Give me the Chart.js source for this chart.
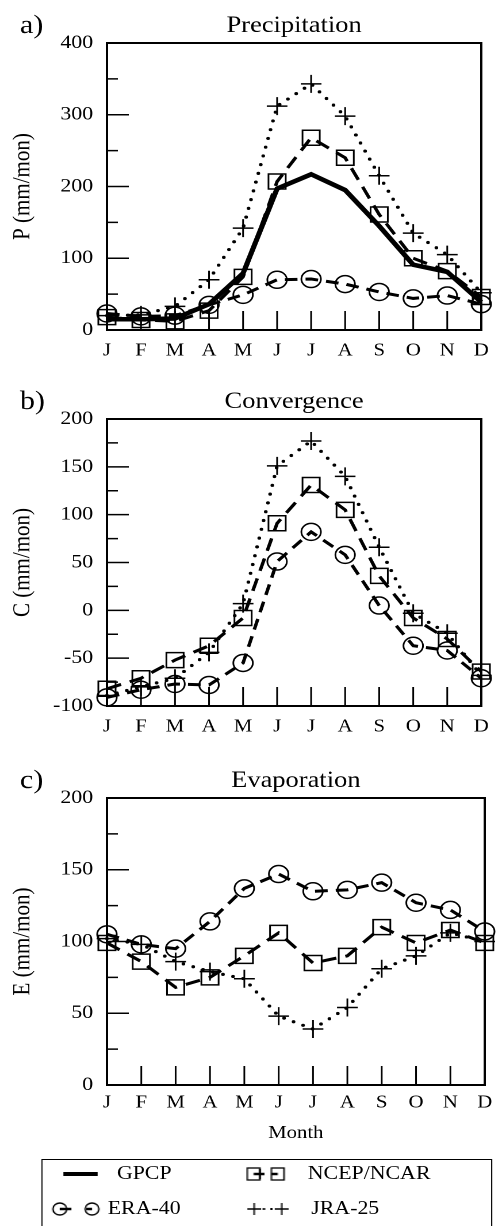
<!DOCTYPE html>
<html>
<head>
<meta charset="utf-8">
<script src="https://cdn.jsdelivr.net/npm/chart.js@4.4.1/dist/chart.umd.min.js"></script>
<style>
  html, body { margin:0; padding:0; background:#fff; overflow:hidden; }
  body { width:500px; height:1226px; position:relative; }
  /* the source figure is stretched sideways, so the whole page is too */
  #page { position:absolute; left:0; top:0; width:435px; height:1226px; transform:scaleX(1.15); transform-origin:0 0; }
  .panel { position:absolute; left:0; width:435px; }
  #legend { position:absolute; left:35.7px; top:1159px; width:392px; height:95px; border:1.5px solid #000; box-sizing:border-box;
            font-family:"Liberation Serif", serif; font-size:19px; color:#000; }
  #legend canvas { position:absolute; left:0; top:0; }
  #legend span { position:absolute; line-height:20px; white-space:nowrap; }
</style>
</head>
<body>
<div id="page">
  <div class="panel" style="top:0px;height:360px"><canvas id="chartP"></canvas></div>
  <div class="panel" style="top:375.7px;height:360px"><canvas id="chartC"></canvas></div>
  <div class="panel" style="top:754.7px;height:400px"><canvas id="chartE"></canvas></div>
  <div id="legend">
    <canvas id="legendMarks" width="392" height="95"></canvas>
    <span style="left:65px;top:3px">GPCP</span>
    <span style="left:57px;top:38px">ERA-40</span>
    <span style="left:231px;top:3px">NCEP/NCAR</span>
    <span style="left:234px;top:38px">JRA-25</span>
  </div>
</div>
<script>
// meses
const months = ["J","F","M","A","M","J","J","A","S","O","N","D"];

// a) Precipitation (mm/mon)
const gpcpP = [15, 15, 16, 36, 79, 197, 217, 195, 145, 91, 81, 39];
const eraP  = [23, 19, 20, 35, 49, 70, 71, 64, 53, 44, 48, 36];
const ncepP = [18, 14, 12, 27, 74, 207, 268, 240, 161, 100, 82, 46];
const jraP  = [20, 21, 33, 70, 142, 312, 343, 298, 215, 135, 105, 52];

// b) Convergence (mm/mon)
const eraC  = [-91, -83, -77, -78, -55, 51, 82, 58, 5, -37, -42, -71];
const ncepC = [-82, -71, -52, -37, -8, 91, 131, 105, 36, -8, -30, -64];
const jraC  = [-89, -80, -71, -44, 7, 151, 177, 140, 66, -3, -24, -68];

// c) Evaporation (mm/mon)
const eraE  = [105, 98, 95, 114, 137, 147, 135, 136, 141, 127, 122, 107];
const ncepE = [99, 86, 68, 75, 90, 106, 85, 90, 110, 99, 108, 99];
const jraE  = [102, 98, 86, 79, 74, 48, 39, 54, 81, 90, 106, 100];

Chart.defaults.font.family = '"Liberation Serif", "Times New Roman", serif';
Chart.defaults.color = "#000";

// marco, ticks hacia adentro, titulo y letra del panel
const frameTicks = {
  id: "frameTicks",
  afterDatasetsDraw(chart, args, opts){
    const ctx = chart.ctx, a = chart.chartArea;
    const x = chart.scales.x, y = chart.scales.y;
    ctx.save();
    ctx.strokeStyle = "#000";
    ctx.lineWidth = 1.5;
    ctx.beginPath();
    for(let v = y.min; v <= y.max; v += opts.minor){
      const py = y.getPixelForValue(v);
      const len = (v % opts.major === 0) ? 19 : 9.5;
      ctx.moveTo(a.left, py);
      ctx.lineTo(a.left + len, py);
    }
    for(let i = 1; i < months.length - 1; i++){
      const px = x.getPixelForValue(i);
      ctx.moveTo(px, a.bottom);
      ctx.lineTo(px, a.bottom - 19);
    }
    ctx.stroke();
    ctx.lineWidth = 2;
    ctx.strokeRect(a.left, a.top, a.right - a.left, a.bottom - a.top);

    ctx.fillStyle = "#000";
    ctx.textBaseline = "alphabetic";
    ctx.textAlign = "center";
    ctx.font = '23px "Liberation Serif"';
    ctx.fillText(opts.title, (a.left + a.right) / 2, a.top - 11);
    ctx.textAlign = "left";
    ctx.font = '26px "Liberation Serif"';
    ctx.fillText(opts.letter, 17.4, a.top - 10);
    ctx.restore();
  }
};

function makeSets(gpcp, era, ncep, jra){
  const sets = [];
  if(gpcp){
    sets.push({ label:"GPCP", data:gpcp, borderColor:"#000", borderWidth:4.5,
      pointRadius:0, tension:0, clip:false });
  }
  sets.push({ label:"ERA-40", data:era, borderColor:"#000", borderWidth:3, borderDash:[11,7],
    pointStyle:"circle", pointRadius:8.5, pointBorderWidth:1.5, pointBorderColor:"#000",
    pointBackgroundColor:"rgba(0,0,0,0)", tension:0, clip:false });
  sets.push({ label:"NCEP/NCAR", data:ncep, borderColor:"#000", borderWidth:3, borderDash:[13,8],
    pointStyle:"rect", pointRadius:10.6, pointBorderWidth:1.5, pointBorderColor:"#000",
    pointBackgroundColor:"rgba(0,0,0,0)", tension:0, clip:false });
  sets.push({ label:"JRA-25", data:jra, borderColor:"#000", borderWidth:3.2, borderDash:[0,9],
    borderCapStyle:"round", pointStyle:"cross", pointRadius:9, pointBorderWidth:1.5,
    pointBorderColor:"#000", tension:0, clip:false });
  return sets;
}

function makeChart(id, sets, cfg){
  return new Chart(document.getElementById(id), {
    type:"line",
    data:{ labels:months, datasets:sets },
    options:{
      responsive:true,
      maintainAspectRatio:false,
      devicePixelRatio:2,
      animation:false,
      events:[],
      layout:{ padding:{ top:43, left:0, right:9.8, bottom:0 } },
      plugins:{
        legend:{ display:false },
        tooltip:{ enabled:false },
        frameTicks:{ title:cfg.title, letter:cfg.letter, major:cfg.step, minor:cfg.step/2 }
      },
      scales:{
        x:{
          type:"category", offset:false,
          grid:{ display:false, drawTicks:false }, border:{ display:false },
          ticks:{ autoSkip:false, maxRotation:0, padding:cfg.xPad, font:{ size:18 } },
          title:{ display:!!cfg.xTitle, text:cfg.xTitle || "", font:{ size:18 }, padding:{ top:0, bottom:10.7 } },
          afterFit: s => { s.height = cfg.xHeight; }
        },
        y:{
          min:cfg.min, max:cfg.max,
          grid:{ display:false, drawTicks:false }, border:{ display:false },
          ticks:{ stepSize:cfg.step, padding:12, font:{ size:19 } },
          title:{ display:true, text:cfg.yTitle, font:{ size:21 }, padding:{ top:7.4, bottom:0 } },
          afterFit: s => { s.width = 93; }
        }
      }
    },
    plugins:[frameTicks]
  });
}

makeChart("chartP", makeSets(gpcpP, eraP, ncepP, jraP),
  { title:"Precipitation", letter:"a)", min:0, max:400, step:100, yTitle:"P (mm/mon)", xPad:10, xHeight:30 });
makeChart("chartC", makeSets(null, eraC, ncepC, jraC),
  { title:"Convergence", letter:"b)", min:-100, max:200, step:50, yTitle:"C (mm/mon)", xPad:10, xHeight:30 });
makeChart("chartE", makeSets(null, eraE, ncepE, jraE),
  { title:"Evaporation", letter:"c)", min:0, max:200, step:50, yTitle:"E (mm/mon)", xPad:7, xHeight:70, xTitle:"Month" });

// simbolos de la leyenda
(function(){
  const c = document.getElementById("legendMarks").getContext("2d");
  c.strokeStyle = "#000";
  c.lineWidth = 4;
  c.beginPath(); c.moveTo(18, 14); c.lineTo(48, 14); c.stroke();

  // ERA-40
  c.lineWidth = 1.3;
  c.beginPath(); c.arc(15, 49, 6, 0, Math.PI*2); c.stroke();
  c.beginPath(); c.arc(43, 49, 6, 0, Math.PI*2); c.stroke();
  c.lineWidth = 2.5;
  c.beginPath(); c.moveTo(15, 49); c.lineTo(25, 49); c.moveTo(38, 49); c.lineTo(43, 49); c.stroke();

  // NCEP/NCAR
  c.lineWidth = 1.3;
  c.strokeRect(178, 8, 11, 12);
  c.strokeRect(199, 8, 11, 12);
  c.lineWidth = 2.5;
  c.beginPath(); c.moveTo(183.5, 14); c.lineTo(193, 14); c.moveTo(199, 14); c.lineTo(204.5, 14); c.stroke();
  c.lineWidth = 1.3;
  c.beginPath(); c.moveTo(189, 9); c.lineTo(189, 19); c.stroke();

  // JRA-25
  c.lineWidth = 1.3;
  c.beginPath();
  c.moveTo(178, 49); c.lineTo(190, 49); c.moveTo(184, 43); c.lineTo(184, 55);
  c.moveTo(202, 49); c.lineTo(214, 49); c.moveTo(208, 43); c.lineTo(208, 55);
  c.stroke();
  c.fillStyle = "#000";
  c.fillRect(191.5, 48, 2, 2);
  c.fillRect(198, 48, 2, 2);
})();
</script>
</body>
</html>
